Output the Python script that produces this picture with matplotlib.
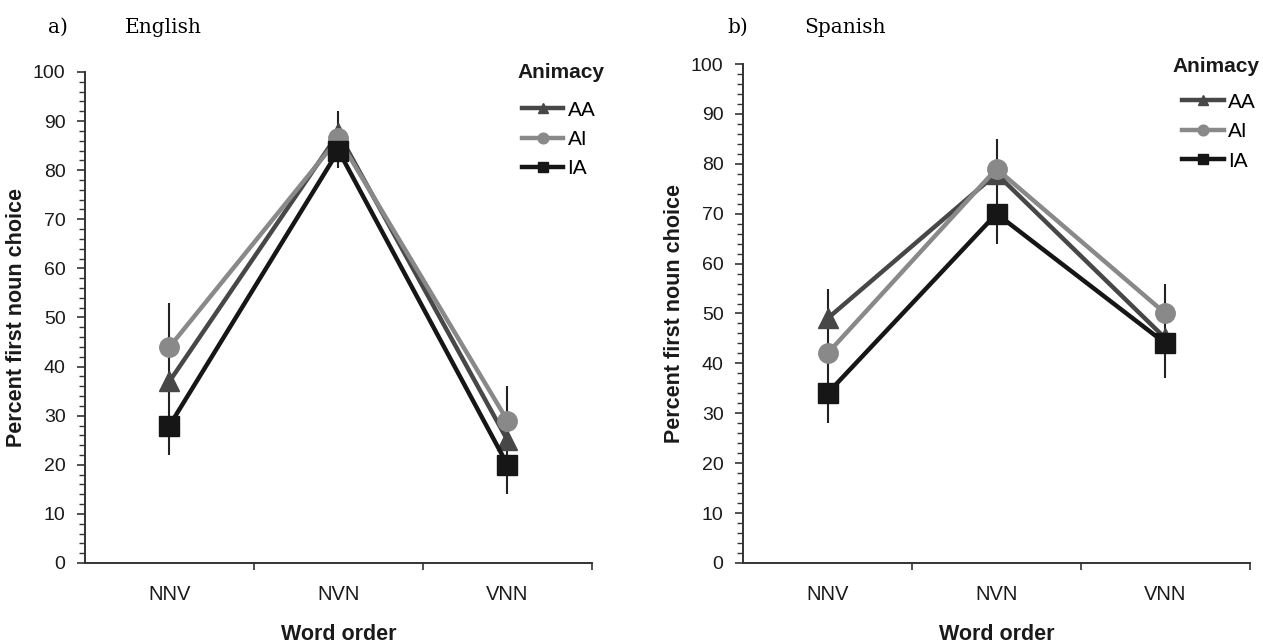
import matplotlib
matplotlib.use("Agg")
import matplotlib.pyplot as plt
from matplotlib.ticker import MultipleLocator, FixedLocator, NullFormatter

plt.rcParams['font.family'] = ['Liberation Sans', 'DejaVu Sans']

# 数据
orders = ['NNV', 'NVN', 'VNN']
groups = ['AA', 'AI', 'IA']

english = {
    'AA': [37, 87.5, 25],
    'AI': [44, 86.5, 29],
    'IA': [28, 84, 20],
}
english_err_low = [22, 80.5, 14]
english_err_high = [53, 92, 36]

spanish = {
    'AA': [49, 78, 45],
    'AI': [42, 79, 50],
    'IA': [34, 70, 44],
}
spanish_err_low = [28, 64, 37]
spanish_err_high = [55, 85, 56]

colors = {'AA': '#474747', 'AI': '#898989', 'IA': '#161616'}
markers = {'AA': '^', 'AI': 'o', 'IA': 's'}


def draw_panel(ax, data, err_low, err_high):
    x = list(range(len(orders)))
    # 误差线（每个类别一条）
    ax.vlines(x, err_low, err_high, color='#222222', lw=1.5, zorder=1)
    for g in groups:
        ax.plot(x, data[g], color=colors[g], marker=markers[g], lw=3.2,
                markersize=14, label=g, zorder=2 if g != 'IA' else 3)
    ax.set_xlim(-0.5, 2.5)
    ax.set_ylim(0, 100)
    ax.yaxis.set_major_locator(MultipleLocator(10))
    ax.yaxis.set_minor_locator(MultipleLocator(2))
    ax.xaxis.set_major_locator(FixedLocator([0.5, 1.5, 2.5]))
    ax.xaxis.set_major_formatter(NullFormatter())
    ax.xaxis.set_minor_locator(FixedLocator(x))
    ax.set_xticklabels(orders, minor=True)
    ax.tick_params(axis='x', which='minor', length=0, pad=16, labelsize=14.5,
                   labelcolor='#1a1a1a')
    ax.tick_params(axis='x', which='major', length=5, width=1.2, color='#333333')
    ax.tick_params(axis='y', which='major', length=6, width=1.2, labelsize=14,
                   color='#333333', pad=8, labelcolor='#1a1a1a')
    ax.tick_params(axis='y', which='minor', length=4, width=1.0, color='#333333')
    for s in ['top', 'right']:
        ax.spines[s].set_visible(False)
    for s in ['left', 'bottom']:
        ax.spines[s].set_color('#333333')
        ax.spines[s].set_linewidth(1.4)
    ax.set_xlabel('Word order', fontsize=15.5, fontweight='bold', labelpad=14,
                  color='#1a1a1a')
    ax.set_ylabel('Percent first noun choice', fontsize=15.5, fontweight='bold',
                  labelpad=4, color='#1a1a1a')


fig = plt.figure(figsize=(12.63, 6.44), dpi=100)
ax1 = fig.add_axes([0.0673, 0.1258, 0.4014, 0.7624])
ax2 = fig.add_axes([0.5883, 0.1258, 0.4014, 0.7748])

draw_panel(ax1, english, english_err_low, english_err_high)
draw_panel(ax2, spanish, spanish_err_low, spanish_err_high)

# 图例（标题单独写）
for ax, anchor, title_xy in [(ax1, (0.4065, 0.8567), (0.410, 0.888)),
                             (ax2, (0.9293, 0.869), (0.9285, 0.896))]:
    fig.text(title_xy[0], title_xy[1], 'Animacy', fontsize=15, fontweight='bold',
             va='center', ha='left', color='#1a1a1a')
    fig.legend(handles=ax.get_lines(), labels=groups, loc='upper left',
               bbox_to_anchor=anchor, frameon=False, fontsize=15,
               markerscale=0.55, handlelength=2.0, handletextpad=0.2,
               labelspacing=0.5, borderaxespad=0)

# 标题
fig.text(0.038, 0.958, 'a)', family='DejaVu Serif', fontsize=14.5, va='center')
fig.text(0.099, 0.958, 'English', family='DejaVu Serif', fontsize=14.5, va='center')
fig.text(0.576, 0.958, 'b)', family='DejaVu Serif', fontsize=14.5, va='center')
fig.text(0.637, 0.958, 'Spanish', family='DejaVu Serif', fontsize=14.5, va='center')

fig.savefig('out.png', dpi=100)
